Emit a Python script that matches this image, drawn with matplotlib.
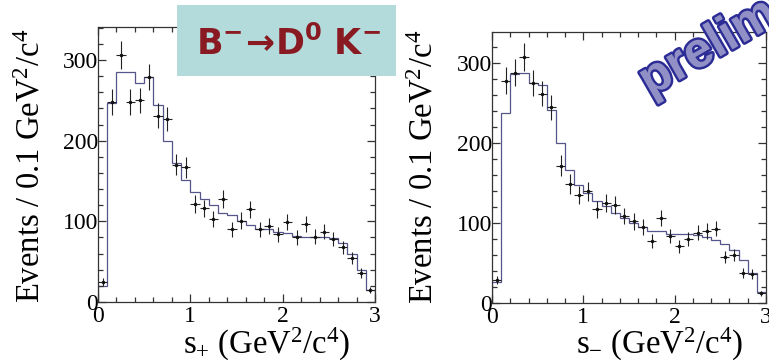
import numpy as np
import matplotlib
matplotlib.use("Agg")
import matplotlib.pyplot as plt
from matplotlib.patches import Rectangle
from matplotlib.ticker import MultipleLocator
import matplotlib.patheffects as pe

plt.rcParams["font.family"] = ["Liberation Serif", "DejaVu Serif"]
plt.rcParams["mathtext.fontset"] = "custom"
plt.rcParams["mathtext.rm"] = "Liberation Serif"
plt.rcParams["mathtext.it"] = "Liberation Serif:italic"
plt.rcParams["mathtext.bf"] = "Liberation Sans:bold"

# 30 bins of 0.1 GeV^2/c^4 over the Dalitz variable range
bin_edges = np.linspace(0.0, 3.0, 31)

# s+ projection: data counts and fit prediction per bin
splus_data = [25, 248, 306, 248, 250, 279, 231, 227, 170, 167,
              122, 116, 103, 128, 90, 101, 115, 90, 94, 84,
              99, 80, 97, 81, 87, 78, 68, 55, 36, 15]
splus_fit = [20, 247, 285, 285, 271, 279, 244, 200, 172, 151,
             136, 128, 120, 110, 108, 101, 95, 91, 90, 87,
             86, 82, 81, 80, 80, 79, 73, 60, 40, 15]

# s- projection: data counts and fit prediction per bin
sminus_data = [29, 278, 288, 308, 275, 262, 245, 172, 149, 135,
               140, 117, 125, 123, 109, 102, 95, 77, 106, 84,
               71, 80, 88, 90, 93, 57, 60, 38, 36, 12]
sminus_fit = [26, 238, 286, 288, 275, 273, 241, 200, 166, 148,
              137, 127, 121, 112, 106, 100, 95, 90, 90, 86,
              86, 86, 85, 83, 79, 74, 66, 54, 37, 14]

x_ticks = [0, 1, 2, 3]
y_ticks = [0, 100, 200, 300]
ylabel_text = r"Events / 0.1 GeV$^{2}$/c$^{4}$"
xlabel_plus = r"s$_{+}$ (GeV$^{2}$/c$^{4}$)"
xlabel_minus = r"s$_{-}$ (GeV$^{2}$/c$^{4}$)"
title_text = r"$\mathbf{B^{-}\!\rightarrow\! D^{0}\ K^{-}}$"
stamp_text = "preliminary"

W, H = 769, 363
fig = plt.figure(figsize=(W / 100, H / 100), dpi=100)
fig.patch.set_facecolor("white")


def px_axes(x0, x1, ytop, ybot):
    return fig.add_axes([x0 / W, 1 - ybot / H, (x1 - x0) / W, (ybot - ytop) / H])


def draw_panel(ax, data, fit, ymax):
    centers = 0.5 * (bin_edges[:-1] + bin_edges[1:])
    data = np.asarray(data, float)
    ax.stairs(fit, bin_edges, color="#55558a", lw=0.9, baseline=0)
    ax.errorbar(centers, data, yerr=np.sqrt(data), xerr=0.05, fmt="o", ms=1.5,
                color="#111111", ecolor="#222222", elinewidth=0.8, capsize=0)
    ax.set_xlim(0, 3)
    ax.set_ylim(0, ymax)
    ax.set_xticks(x_ticks)
    ax.set_yticks(y_ticks)
    ax.xaxis.set_minor_locator(MultipleLocator(0.2))
    ax.yaxis.set_minor_locator(MultipleLocator(20))
    ax.tick_params(which="both", direction="in", top=True, right=True,
                   color="#333333", width=0.9)
    ax.tick_params(which="major", length=6, labelsize=17)
    ax.tick_params(which="minor", length=3.5)
    ax.tick_params(axis="y", pad=0)
    ax.tick_params(axis="x", pad=3)
    for sp in ax.spines.values():
        sp.set_color("#333333")
        sp.set_linewidth(0.9)


ax1 = px_axes(98, 375, 27, 302)
draw_panel(ax1, splus_data, splus_fit, 341)
ax2 = px_axes(492, 766, 32, 303)
draw_panel(ax2, sminus_data, sminus_fit, 339)

fig.text(31.5 / W, 1 - 166 / H, ylabel_text, rotation=90, ha="center", va="center", fontsize=23.5)
fig.text(424 / W, 1 - 167 / H, ylabel_text, rotation=90, ha="center", va="center", fontsize=23.5)
fig.text(267 / W, 1 - 344 / H, xlabel_plus, ha="center", va="center", fontsize=23.5)
fig.text(660 / W, 1 - 344 / H, xlabel_minus, ha="center", va="center", fontsize=23.5)

# decay-mode label box
box = Rectangle((177 / W, 1 - 76 / H), 219 / W, 71 / H, transform=fig.transFigure,
                facecolor="#b3dbdc", edgecolor="none", zorder=5)
fig.add_artist(box)
fig.text(289 / W, 1 - 45 / H, title_text, ha="center", va="center", fontsize=25,
         color="#8a1a22", zorder=6, math_fontfamily="dejavusans")

# preliminary stamp
fig.text(650 / W, 1 - 97 / H, stamp_text, rotation=30, rotation_mode="anchor",
         ha="left", va="baseline", fontsize=36, fontweight="bold",
         family=["Liberation Sans", "DejaVu Sans"], color="#9090c6", zorder=7,
         path_effects=[pe.withStroke(linewidth=3.5, foreground="#2c2c96")])

fig.savefig("out.png", dpi=100)
